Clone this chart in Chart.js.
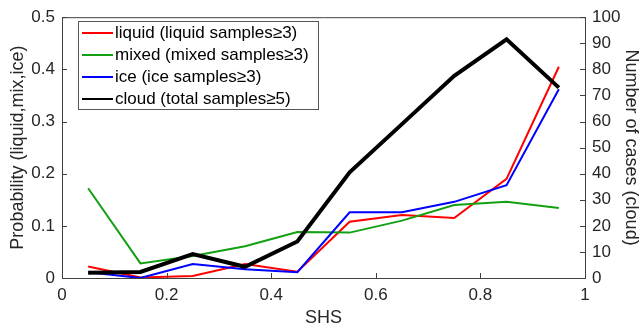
<!DOCTYPE html>
<html>
<head>
  <title>SHS phase probability</title>
  <script src="https://cdn.jsdelivr.net/npm/chart.js"></script>
  <style>
    body { margin: 0; background: #fff; }
  </style>
</head>
<body>
<canvas id="shsChart" width="644" height="335"></canvas>
<script>
  // bin centres of SHS
  const shs = [0.05, 0.15, 0.25, 0.35, 0.45, 0.55, 0.65, 0.75, 0.85, 0.95];
  // probability of each phase per bin (left axis)
  const liquid = [0.022, 0.001, 0.004, 0.027, 0.012, 0.108, 0.121, 0.115, 0.19, 0.405];
  const mixed = [0.172, 0.028, 0.042, 0.061, 0.088, 0.087, 0.11, 0.14, 0.146, 0.134];
  const ice = [0.011, 0.0, 0.027, 0.017, 0.011, 0.126, 0.126, 0.146, 0.178, 0.362];
  // number of cloud cases per bin (right axis)
  const cloud = [2, 2.3, 9.2, 4.3, 14, 40.5, 59, 77.5, 91.5, 73];

  const seriesNames = [
    'liquid (liquid samples\u22653)',
    'mixed (mixed samples\u22653)',
    'ice (ice samples\u22653)',
    'cloud (total samples\u22655)'
  ];

  const FONT = "'Liberation Sans', Arial, sans-serif";
  const AXIS = '#404040';
  const TEXT = '#262626';

  const pts = vals => vals.map((v, i) => ({ x: shs[i], y: v }));
  // plain numbers: 0, 0.2, ..., 1
  const plain = v => String(Number(v.toFixed(2)));

  // box on top, inward tick marks, legend box
  const matlabLook = {
    id: 'matlabLook',
    afterDraw(chart) {
      const ctx = chart.ctx;
      const a = chart.chartArea;
      const sx = chart.scales.x, sy = chart.scales.y, sy1 = chart.scales.y1;
      ctx.save();
      ctx.strokeStyle = AXIS;
      ctx.lineWidth = 1;
      ctx.beginPath();
      ctx.moveTo(a.left, a.top + 0.5);
      ctx.lineTo(a.right, a.top + 0.5);
      sx.ticks.forEach(t => {
        const px = Math.round(sx.getPixelForValue(t.value)) + 0.5;
        ctx.moveTo(px, a.bottom);
        ctx.lineTo(px, a.bottom - 5);
      });
      sy.ticks.forEach(t => {
        const py = Math.round(sy.getPixelForValue(t.value)) + 0.5;
        ctx.moveTo(a.left, py);
        ctx.lineTo(a.left + 5, py);
      });
      sy1.ticks.forEach(t => {
        const py = Math.round(sy1.getPixelForValue(t.value)) + 0.5;
        ctx.moveTo(a.right, py);
        ctx.lineTo(a.right - 5, py);
      });
      ctx.stroke();

      // legend
      const lx = 78, ly = 21, lw = 240, lh = 88, row = 22;
      ctx.fillStyle = '#fff';
      ctx.fillRect(lx, ly, lw, lh);
      ctx.strokeStyle = '#555';
      ctx.strokeRect(lx + 0.5, ly + 0.5, lw, lh);
      ctx.font = '17px ' + FONT;
      ctx.textBaseline = 'middle';
      chart.data.datasets.forEach((ds, i) => {
        const cy = ly + 12 + i * row;
        ctx.strokeStyle = ds.borderColor;
        ctx.lineWidth = 2;
        ctx.beginPath();
        ctx.moveTo(lx + 4, cy);
        ctx.lineTo(lx + 35, cy);
        ctx.stroke();
        ctx.fillStyle = '#000';
        ctx.fillText(ds.label, lx + 37, cy);
      });
      ctx.restore();
    }
  };

  new Chart(document.getElementById('shsChart'), {
    type: 'line',
    data: {
      datasets: [
        { label: seriesNames[0], data: pts(liquid), borderColor: '#ff0000', borderWidth: 2, yAxisID: 'y', order: 4 },
        { label: seriesNames[1], data: pts(mixed), borderColor: '#12a012', borderWidth: 2, yAxisID: 'y', order: 3 },
        { label: seriesNames[2], data: pts(ice), borderColor: '#0000ff', borderWidth: 2, yAxisID: 'y', order: 2 },
        { label: seriesNames[3], data: pts(cloud), borderColor: '#000000', borderWidth: 4, yAxisID: 'y1', order: 1 }
      ]
    },
    options: {
      responsive: false,
      animation: false,
      elements: { point: { radius: 0 }, line: { tension: 0, borderJoinStyle: 'miter' } },
      layout: { padding: { top: 14, left: 0, right: 0, bottom: 0 } },
      plugins: { legend: { display: false }, tooltip: { enabled: false } },
      scales: {
        x: {
          type: 'linear', min: 0, max: 1,
          afterFit: s => { s.height = 57; },
          ticks: { stepSize: 0.2, padding: 7, color: TEXT, font: { family: FONT, size: 17 }, callback: plain },
          grid: { drawOnChartArea: false, drawTicks: false },
          border: { color: AXIS },
          title: { display: true, text: 'SHS', color: TEXT, font: { family: FONT, size: 18 }, padding: { top: 0, bottom: 6 } }
        },
        y: {
          position: 'left', min: 0, max: 0.5,
          afterFit: s => { s.width = 62; },
          ticks: { stepSize: 0.1, padding: 7, color: TEXT, font: { family: FONT, size: 17 }, callback: plain },
          grid: { drawOnChartArea: false, drawTicks: false },
          border: { color: AXIS },
          title: { display: true, text: 'Probability (liquid,mix,ice)', color: TEXT, font: { family: FONT, size: 18 }, padding: { top: 7, bottom: 0 } }
        },
        y1: {
          position: 'right', min: 0, max: 100,
          afterFit: s => { s.width = 59; },
          ticks: { stepSize: 10, padding: 7, color: TEXT, font: { family: FONT, size: 17 } },
          grid: { drawOnChartArea: false, drawTicks: false },
          border: { color: AXIS },
          title: { display: true, text: 'Number of cases (cloud)', color: TEXT, font: { family: FONT, size: 18 }, padding: { top: 2, bottom: 0 } }
        }
      }
    },
    plugins: [matlabLook]
  });
</script>
</body>
</html>
